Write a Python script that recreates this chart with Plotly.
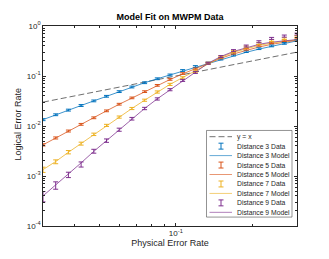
import math
import plotly.graph_objects as go

# ---------------- data ----------------
p_phys = [0.0300, 0.03366, 0.03777, 0.04238, 0.04755, 0.05335, 0.05986, 0.06716,
          0.07536, 0.08455, 0.09487, 0.1064, 0.1194, 0.1340, 0.1504, 0.1687,
          0.1893, 0.2124, 0.2383, 0.2674, 0.3000]

d3_data = [0.0134, 0.0168, 0.0208, 0.0257, 0.0318, 0.0393, 0.0487, 0.0603, 0.0734, 0.0881,
           0.105, 0.129, 0.155, 0.182, 0.218, 0.262, 0.307, 0.352, 0.400, 0.450, 0.512]
d3_err = [0.0006, 0.0007, 0.0009, 0.0011, 0.0013, 0.0016, 0.0020, 0.0025, 0.0030, 0.0036,
          0.0043, 0.0052, 0.0062, 0.0072, 0.0088, 0.0105, 0.012, 0.014, 0.016, 0.018, 0.020]
d3_model = [0.0134, 0.0168, 0.0208, 0.0257, 0.0318, 0.0393, 0.0487, 0.0600, 0.0734, 0.0881,
            0.105, 0.127, 0.153, 0.181, 0.215, 0.255, 0.298, 0.345, 0.395, 0.447, 0.505]

d5_data = [0.00419, 0.00577, 0.00794, 0.0108, 0.0146, 0.0201, 0.0273, 0.0365, 0.0487, 0.0650,
           0.0855, 0.112, 0.139, 0.180, 0.230, 0.285, 0.342, 0.410, 0.464, 0.508, 0.574]
d5_err = [0.00021, 0.00027, 0.00035, 0.00045, 0.0006, 0.0008, 0.0011, 0.0014, 0.0019, 0.0025,
          0.0033, 0.0043, 0.0053, 0.0068, 0.0085, 0.0105, 0.0125, 0.015, 0.017, 0.019, 0.021]
d5_model = [0.0042, 0.00577, 0.00794, 0.0108, 0.0146, 0.0201, 0.0272, 0.0365, 0.0487, 0.0645,
            0.0850, 0.110, 0.140, 0.180, 0.226, 0.276, 0.328, 0.380, 0.430, 0.475, 0.520]

d7_data = [0.00134, 0.00193, 0.00300, 0.00445, 0.00682, 0.0103, 0.0151, 0.0224, 0.0328, 0.0479,
           0.0680, 0.092, 0.125, 0.180, 0.241, 0.307, 0.380, 0.450, 0.508, 0.556, 0.619]
d7_err = [0.00016, 0.00017, 0.00023, 0.0003, 0.00038, 0.0005, 0.00075, 0.0011, 0.0016, 0.0024,
          0.0034, 0.0046, 0.006, 0.0085, 0.011, 0.014, 0.017, 0.020, 0.022, 0.024, 0.026]
d7_model = [0.00134, 0.00195, 0.00298, 0.00447, 0.00682, 0.0103, 0.0151, 0.0224, 0.0328, 0.0479,
            0.0680, 0.093, 0.127, 0.180, 0.237, 0.298, 0.355, 0.410, 0.455, 0.495, 0.530]

d9_data = [0.000396, 0.000654, 0.00106, 0.00171, 0.00314, 0.00511, 0.00845, 0.0140, 0.0224, 0.0348,
           0.0533, 0.0817, 0.118, 0.180, 0.245, 0.322, 0.398, 0.485, 0.565, 0.629, 0.689]
d9_err = [0.000092, 0.00011, 0.00013, 0.0002, 0.00028, 0.0004, 0.0006, 0.00084, 0.0012, 0.0018,
          0.0026, 0.0038, 0.0055, 0.008, 0.011, 0.015, 0.018, 0.022, 0.026, 0.030, 0.032]
d9_model = [0.000400, 0.00066, 0.00108, 0.00183, 0.00311, 0.00513, 0.00845, 0.0139, 0.0224, 0.0350,
            0.0533, 0.081, 0.119, 0.180, 0.245, 0.310, 0.370, 0.430, 0.475, 0.510, 0.535]

yx_x = [0.03, 0.3]
yx_y = [0.03, 0.3]

series_names = ["Distance 3", "Distance 5", "Distance 7", "Distance 9"]
series_colors = ["#0072BD", "#D95319", "#EDB120", "#7E2F8E"]
series_data = [d3_data, d5_data, d7_data, d9_data]
series_err = [d3_err, d5_err, d7_err, d9_err]
series_model = [d3_model, d5_model, d7_model, d9_model]

y_tickvals = [1e-4, 1e-3, 1e-2, 1e-1, 1]
y_ticktext = ["10<sup>-4</sup>", "10<sup>-3</sup>", "10<sup>-2</sup>", "10<sup>-1</sup>", "10<sup>0</sup>"]
x_tickvals = [0.1]
x_ticktext = ["10<sup>-1</sup>"]
x_minor = [0.03, 0.04, 0.05, 0.06, 0.07, 0.08, 0.09, 0.2, 0.3]
y_minor = [k * 10.0 ** e for e in range(-4, 0) for k in range(2, 10)]

title_text = "Model Fit on MWPM Data"
x_title = "Physical Error Rate"
y_title = "Logical Error Rate"

# ---------------- figure ----------------
FONT = "Liberation Sans, Arial, Helvetica, sans-serif"
AX = "#262626"
OFF = 8                      # default page margin of the html body
W, H = 329 - OFF, 259 - OFF  # figure size so that it fills the window
# plot area in window pixels: x 43..297, y 24..226
ML, MR, MT, MB = 43 - OFF, 32, 24 - OFF, 33
PW, PH = W - ML - MR, H - MT - MB

fig = go.Figure()
fig.add_trace(go.Scatter(x=yx_x, y=yx_y, mode="lines", name="y = x",
                         line=dict(color="#707070", width=1, dash="6px,3px")))

for name, col, mod in zip(series_names, series_colors, series_model):
    fig.add_trace(go.Scatter(x=p_phys, y=mod, mode="lines", name=name + " Model",
                             opacity=0.75, line=dict(color=col, width=1)))
for name, col, dat, err in zip(series_names, series_colors, series_data, series_err):
    fig.add_trace(go.Scatter(x=p_phys, y=dat, mode="markers", name=name + " Data",
                             marker=dict(size=1, color=col, opacity=0),
                             error_y=dict(type="data", array=err, visible=True,
                                          color=col, thickness=1, width=2.5)))

axis_common = dict(
    type="log", showline=True, linecolor=AX, linewidth=0.6, mirror="ticks",
    ticks="inside", ticklen=3, tickwidth=0.6, tickcolor=AX,
    showgrid=False, zeroline=False, tickmode="array",
    tickfont=dict(size=8, color=AX, family=FONT),
)

fig.update_xaxes(**axis_common, range=[math.log10(0.03), math.log10(0.3)],
                 tickvals=x_tickvals, ticktext=x_ticktext,
                 minor=dict(tickmode="array", tickvals=x_minor, ticks="inside",
                            ticklen=1.8, tickwidth=0.5, tickcolor=AX, showgrid=False),
                 title=dict(text=x_title, font=dict(size=9, color=AX, family=FONT), standoff=0))
fig.update_yaxes(**axis_common, range=[-4, 0],
                 tickvals=y_tickvals, ticktext=y_ticktext,
                 minor=dict(tickmode="array", tickvals=y_minor, ticks="inside",
                            ticklen=1.8, tickwidth=0.5, tickcolor=AX, showgrid=False))


# ---------------- window pixel -> paper helpers ----------------
def px(xw):
    return (xw - OFF - ML) / PW


def py(yw):
    return (MT + PH - (yw - OFF)) / PH


shapes = []
annotations = []

# y-axis title
annotations.append(dict(text=y_title, xref="paper", yref="paper", x=px(18.5), y=py(123),
                        xanchor="center", yanchor="middle", textangle=-90, showarrow=False,
                        font=dict(size=9, color=AX, family=FONT)))

# ---------------- manual MATLAB-style legend ----------------
shapes.append(dict(type="rect", xref="paper", yref="paper",
                   x0=px(206.5), x1=px(292), y0=py(217), y1=py(129.5),
                   line=dict(color=AX, width=0.5), fillcolor="white", layer="above"))

entries = [("y = x", "#707070", "dash")]
for name, col in zip(series_names, series_colors):
    entries.append((name + " Data", col, "data"))
    entries.append((name + " Model", col, "model"))

row0, step = 135.8, 9.55
for k, (label, col, kind) in enumerate(entries):
    yy = row0 + step * k
    if kind == "dash":
        shapes.append(dict(type="line", xref="paper", yref="paper", layer="above",
                           x0=px(209.5), x1=px(232), y0=py(yy), y1=py(yy),
                           line=dict(color=col, width=1, dash="6px,3px")))
    elif kind == "model":
        shapes.append(dict(type="line", xref="paper", yref="paper", layer="above",
                           x0=px(209.5), x1=px(232), y0=py(yy), y1=py(yy),
                           opacity=0.6, line=dict(color=col, width=1)))
    else:
        cx = 221
        shapes.append(dict(type="line", xref="paper", yref="paper", layer="above",
                           x0=px(cx), x1=px(cx), y0=py(yy - 3), y1=py(yy + 3),
                           line=dict(color=col, width=1)))
        for dy in (-3, 3):
            shapes.append(dict(type="line", xref="paper", yref="paper", layer="above",
                               x0=px(cx - 2.5), x1=px(cx + 2.5), y0=py(yy + dy), y1=py(yy + dy),
                               line=dict(color=col, width=1)))
    annotations.append(dict(text=label, xref="paper", yref="paper", x=px(234.5), y=py(yy),
                            xanchor="left", yanchor="middle", showarrow=False,
                            font=dict(size=6.8, color=AX, family=FONT)))

fig.update_layout(
    width=W, height=H, margin=dict(l=ML, r=MR, t=MT, b=MB),
    paper_bgcolor="white", plot_bgcolor="white", showlegend=False,
    font=dict(family=FONT, color=AX),
    title=dict(text=title_text, x=(ML + PW / 2) / W, xanchor="center",
               y=1 - (16.7 - OFF) / H, yanchor="middle",
               font=dict(size=9, color="#000000", family=FONT, weight="bold")),
    shapes=shapes, annotations=annotations,
)

fig.write_html("out.html")
